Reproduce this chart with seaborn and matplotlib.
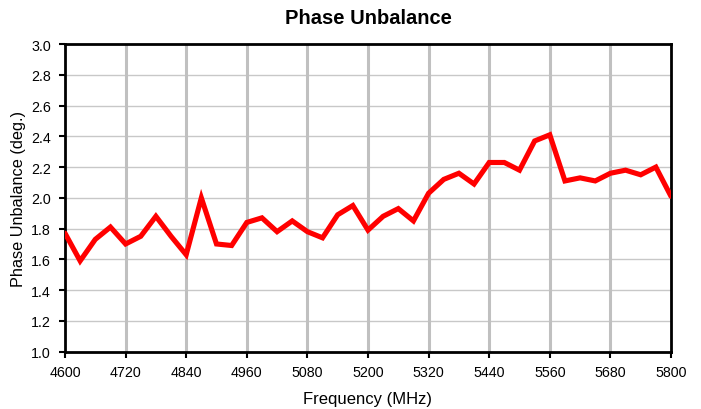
import numpy as np
import pandas as pd
import seaborn as sns
import matplotlib
matplotlib.use("Agg")
import matplotlib.pyplot as plt

# Frequency points (MHz), 30 MHz steps
freq = [4600, 4630, 4660, 4690, 4720, 4750, 4780, 4810, 4840, 4870,
        4900, 4930, 4960, 4990, 5020, 5050, 5080, 5110, 5140, 5170,
        5200, 5230, 5260, 5290, 5320, 5350, 5380, 5410, 5440, 5470,
        5500, 5530, 5560, 5590, 5620, 5650, 5680, 5710, 5740, 5770, 5800]

# phase unbalance (deg.)
phase = [1.77, 1.59, 1.73, 1.81, 1.70, 1.75, 1.88, 1.75, 1.63, 2.00,
         1.70, 1.69, 1.84, 1.87, 1.78, 1.85, 1.78, 1.74, 1.89, 1.95,
         1.79, 1.88, 1.93, 1.85, 2.03, 2.12, 2.16, 2.09, 2.23, 2.23,
         2.18, 2.37, 2.41, 2.11, 2.13, 2.11, 2.16, 2.18, 2.15, 2.20, 2.01]

x_ticks = list(range(4600, 5801, 120))
y_ticks = [1.0, 1.2, 1.4, 1.6, 1.8, 2.0, 2.2, 2.4, 2.6, 2.8, 3.0]

df = pd.DataFrame({"Frequency": freq, "Phase": phase})

sns.set_style("white")
plt.rcParams['font.family'] = ['Liberation Sans', 'DejaVu Sans']
plt.rcParams['text.color'] = 'black'
plt.rcParams['axes.labelcolor'] = 'black'
plt.rcParams['xtick.color'] = 'black'
plt.rcParams['ytick.color'] = 'black'

fig = plt.figure(figsize=(7.01, 4.10), dpi=100)
ax = fig.add_axes([0.0927, 0.140, 0.8645, 0.750])

# grid lines: thin horizontal, thicker vertical
for yv in y_ticks[1:-1]:
    ax.axhline(yv, color="#c8c8c8", lw=1.0, zorder=0)
for xv in x_ticks[1:-1]:
    ax.axvline(xv, color="#c0c0c0", lw=2.2, zorder=0)

sns.lineplot(data=df, x="Frequency", y="Phase", ax=ax, color="#ff0000",
             lw=3.7, solid_joinstyle="miter", zorder=3)

ax.set_xlim(4600, 5800)
ax.set_ylim(1.0, 3.0)
ax.set_xticks(x_ticks)
ax.set_yticks(y_ticks)
ax.set_yticklabels([f"{v:.1f}" for v in y_ticks])
ax.tick_params(axis="both", direction="out", length=4, width=1.5,
               color="black", labelcolor="black", labelsize=10.3, pad=6,
               left=True, bottom=True)

for s in ax.spines.values():
    s.set_color("black")
    s.set_linewidth(2)

ax.set_xlabel("Frequency (MHz)", fontsize=12, labelpad=8, color="black")
ax.set_ylabel("Phase Unbalance (deg.)", fontsize=11.7, labelpad=4, color="black")
ax.set_title("Phase Unbalance", fontsize=14.5, fontweight="bold", pad=15,
             color="black")

fig.savefig("out.png", dpi=100)
